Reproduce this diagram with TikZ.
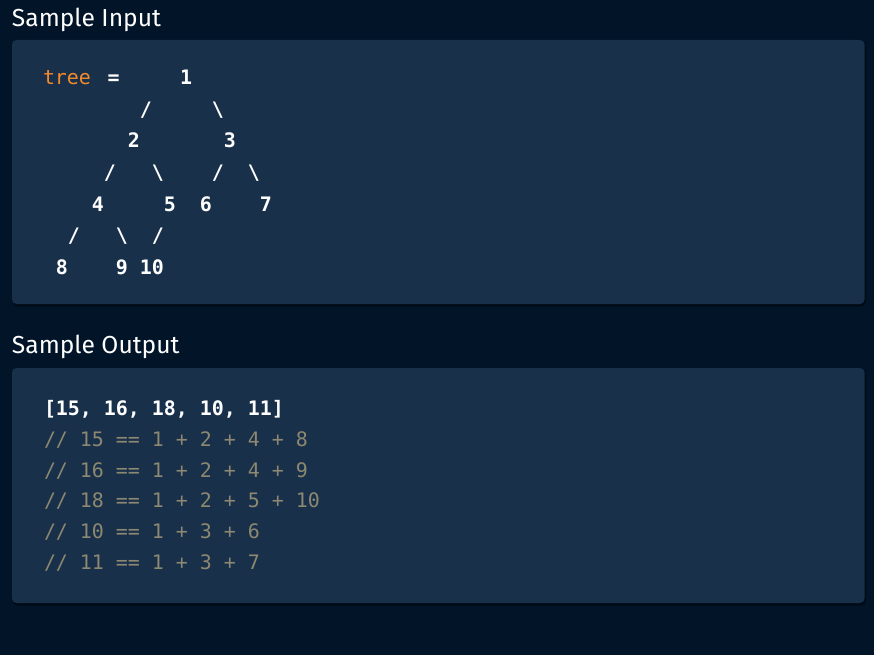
\documentclass[tikz,border=0pt]{standalone}
\usepackage{fontspec}
\setmainfont{Fira Sans}
\newfontfamily\codefont{DejaVu Sans Mono}
\definecolor{bg}{HTML}{011428}
\definecolor{panel}{HTML}{19304B}
\definecolor{shade}{HTML}{000B16}
\definecolor{kw}{HTML}{F58A2C}
\definecolor{cmt}{HTML}{8C8871}
\begin{document}
\begin{tikzpicture}[x=1pt,y=-1pt,
  coderegular/.style={anchor=base west, inner sep=0pt, outer sep=0pt,
    font=\codefont\fontsize{19.93}{24}\selectfont},
  code/.style={coderegular, font=\codefont\fontsize{19.93}{24}\selectfont\bfseries, text=white},
  codec/.style={code, anchor=base},
  comment/.style={coderegular, text=cmt},
  keyword/.style={coderegular, text=kw},
  header/.style={anchor=base west, inner sep=0pt, outer sep=0pt,
    font=\fontsize{24.6}{28}\selectfont, text=white},
  panelbox/.style={fill=panel, rounded corners=4.5pt},
  shadowbox/.style={fill=shade, rounded corners=5pt}]
\fill[bg] (0,0) rectangle (874,655);
\useasboundingbox (0,0) rectangle (874,655);
% panels
\fill[shadowbox] (12.5,41.5) rectangle (866,306.5);
\fill[panelbox] (12,40) rectangle (864.5,304);
\fill[shadowbox] (12.5,369.5) rectangle (866,605.5);
\fill[panelbox] (12,368) rectangle (864.5,603);
% headers
\node[header] (hin) at (12,27) {Sample Input};
\node[header] (hout) at (12,353.5) {Sample Output};
% input
\node[keyword] (kwtree) at (43,85) {tree};
\node[codec] (eq) at (113.7,85) {=};
\node[codec] (n1) at (186,85) {1};
\node[code] (r2) at (44,116.5) {~~~~~~~~/~~~~~\textbackslash};
\node[code] (r3) at (44,148) {~~~~~~~2~~~~~~~3};
\node[code] (r4) at (44,179.5) {~~~~~/~~~\textbackslash~~~~/~~\textbackslash};
\node[code] (r5) at (44,211) {~~~~4~~~~~5~~6~~~~7};
\node[code] (r6) at (44,242.5) {~~/~~~\textbackslash~~/};
\node[code] (r7) at (44,274) {~8~~~~9~10};
% output
\node[code] (o1) at (44,415.5) {[15,~16,~18,~10,~11]};
\node[comment] (c1) at (44,446.3) {//~15~==~1~+~2~+~4~+~8};
\node[comment] (c2) at (44,477.1) {//~16~==~1~+~2~+~4~+~9};
\node[comment] (c3) at (44,507.9) {//~18~==~1~+~2~+~5~+~10};
\node[comment] (c4) at (44,538.7) {//~10~==~1~+~3~+~6};
\node[comment] (c5) at (44,569.5) {//~11~==~1~+~3~+~7};
\end{tikzpicture}
\end{document}
